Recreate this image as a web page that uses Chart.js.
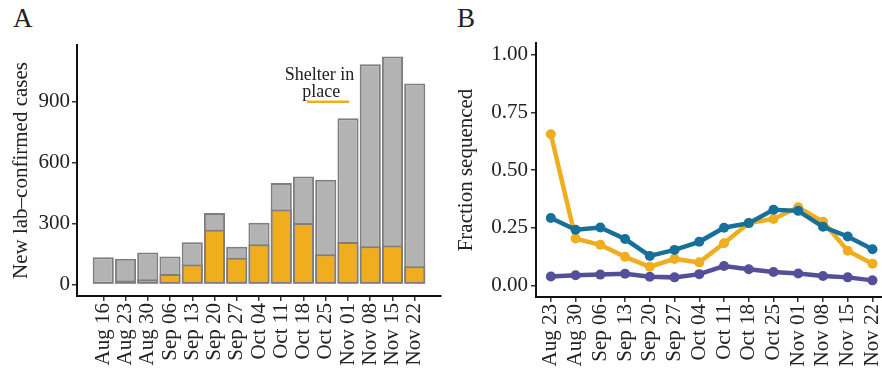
<!DOCTYPE html>
<html lang="en">
<head>
    <meta charset="UTF-8">
    <title>Cases and fraction sequenced</title>
    <script src="https://cdn.jsdelivr.net/npm/chart.js"></script>
    <style>
        html, body {
            margin: 0;
            padding: 0;
            background: #fff;
            overflow: hidden;
            width: 882px;
            height: 368px;
        }
        .panel-letter {
            position: absolute;
            font-family: "Liberation Serif", serif;
            font-size: 27px;
            line-height: 27px;
            color: #222;
        }
        #canvasA {
            position: absolute;
            left: 0;
            top: 0;
        }
        #canvasB {
            position: absolute;
            left: 440px;
            top: 0;
        }
    </style>
</head>
<body>

    <div class="panel-letter" style="left:13px; top:5px;">A</div>
    <div class="panel-letter" style="left:457px; top:5px;">B</div>

    <canvas id="canvasA" width="450" height="368"></canvas>
    <canvas id="canvasB" width="460" height="368"></canvas>

    <script>
        // ---- datos panel A ----
        const weeksA = ['Aug 16', 'Aug 23', 'Aug 30', 'Sep 06', 'Sep 13', 'Sep 20', 'Sep 27',
                        'Oct 04', 'Oct 11', 'Oct 18', 'Oct 25', 'Nov 01', 'Nov 08', 'Nov 15', 'Nov 22'];
        const totalCases = [135, 127, 158, 138, 208, 353, 186, 304, 500, 532, 516, 819, 1084, 1123, 990];
        const sequencedCases = [10, 20, 26, 52, 99, 270, 132, 199, 369, 303, 150, 210, 189, 192, 90];
        const yTicksA = [0, 300, 600, 900];
        const shelterText = ['Shelter in', 'place'];

        // ---- datos panel B ----
        const weeksB = ['Aug 23', 'Aug 30', 'Sep 06', 'Sep 13', 'Sep 20', 'Sep 27', 'Oct 04',
                        'Oct 11', 'Oct 18', 'Oct 25', 'Nov 01', 'Nov 08', 'Nov 15', 'Nov 22'];
        const fracBlue = [0.292, 0.241, 0.251, 0.201, 0.128, 0.154, 0.189, 0.250, 0.270, 0.328, 0.323, 0.254, 0.212, 0.157];
        const fracOrange = [0.655, 0.203, 0.176, 0.124, 0.081, 0.115, 0.100, 0.183, 0.270, 0.288, 0.339, 0.276, 0.150, 0.094];
        const fracPurple = [0.039, 0.044, 0.047, 0.051, 0.038, 0.035, 0.049, 0.084, 0.070, 0.058, 0.052, 0.041, 0.035, 0.022];
        const yTicksB = [0, 0.25, 0.5, 0.75, 1.0];

        const SERIF = '"Liberation Serif", "DejaVu Serif", serif';
        const GREY = '#b3b3b3';
        const GREY_EDGE = '#7e7e7e';
        const ORANGE = '#f0ad1e';
        const BLUE = '#17709a';
        const PURPLE = '#554e98';

        function axisBase(fontSize) {
            return {
                offset: false,
                border: { display: true, color: '#111', width: 2 },
                grid: { display: true, offset: false, drawOnChartArea: false, drawTicks: true, tickLength: 5, color: '#333', lineWidth: 1.5 },
                ticks: { color: '#222', font: { family: SERIF, size: fontSize } }
            };
        }

        // anotacion "Shelter in place" en coordenadas de datos
        const shelterPlugin = {
            id: 'shelter',
            afterDatasetsDraw(chart) {
                const { ctx, scales: { x, y } } = chart;
                ctx.save();
                ctx.fillStyle = '#222';
                ctx.font = '18px ' + SERIF;
                ctx.textAlign = 'center';
                ctx.textBaseline = 'alphabetic';
                ctx.fillText(shelterText[0], x.getPixelForValue(9.72), y.getPixelForValue(1007));
                ctx.fillText(shelterText[1], x.getPixelForValue(9.8), y.getPixelForValue(924));
                ctx.strokeStyle = ORANGE;
                ctx.lineWidth = 2.5;
                ctx.beginPath();
                ctx.moveTo(x.getPixelForValue(9.15), y.getPixelForValue(900));
                ctx.lineTo(x.getPixelForValue(11.05), y.getPixelForValue(900));
                ctx.stroke();
                ctx.restore();
            }
        };

        const xA = axisBase(21);
        Object.assign(xA, {
            type: 'linear',
            min: -1.18,
            max: weeksA.length - 1 + 1.18,
            afterBuildTicks: s => { s.ticks = weeksA.map((_, i) => ({ value: i })); },
            afterFit: s => { s.height = 72; }
        });
        Object.assign(xA.ticks, { autoSkip: false, minRotation: 90, maxRotation: 90, padding: 2,
                                  callback: (v, i) => weeksA[i] });

        const yA = axisBase(21);
        Object.assign(yA, {
            min: -56,
            max: 1179,
            afterBuildTicks: s => { s.ticks = yTicksA.map(v => ({ value: v })); },
            afterFit: s => { s.width = 77; },
            title: { display: true, text: 'New lab\u2013confirmed cases', color: '#222',
                     font: { family: SERIF, size: 21 }, padding: { top: 9, bottom: 0 } }
        });
        yA.ticks.padding = 2;

        new Chart(document.getElementById('canvasA'), {
            type: 'bar',
            data: {
                datasets: [{
                    label: 'Sequenced',
                    data: sequencedCases.map((v, i) => ({ x: i, y: v })),
                    backgroundColor: ORANGE,
                    borderColor: GREY_EDGE,
                    borderWidth: 2,
                    borderSkipped: false,
                    grouped: false,
                    order: 0
                }, {
                    label: 'Total',
                    data: totalCases.map((v, i) => ({ x: i, y: v })),
                    backgroundColor: GREY,
                    borderColor: GREY_EDGE,
                    borderWidth: 2,
                    borderSkipped: false,
                    grouped: false,
                    order: 1
                }]
            },
            options: {
                responsive: false,
                animation: false,
                layout: { padding: { left: 0, top: 45, right: 9, bottom: 0 } },
                datasets: { bar: { barPercentage: 0.95, categoryPercentage: 1 } },
                plugins: { legend: { display: false }, tooltip: { enabled: false } },
                scales: { x: xA, y: yA }
            },
            plugins: [shelterPlugin]
        });

        const xB = axisBase(21);
        Object.assign(xB, {
            type: 'linear',
            min: -0.6,
            max: weeksB.length - 1 + 0.6,
            afterBuildTicks: s => { s.ticks = weeksB.map((_, i) => ({ value: i })); },
            afterFit: s => { s.height = 71; }
        });
        Object.assign(xB.ticks, { autoSkip: false, minRotation: 90, maxRotation: 90, padding: 2,
                                  callback: (v, i) => weeksB[i] });

        const yB = axisBase(21);
        Object.assign(yB, {
            min: -0.05,
            max: 1.05,
            afterBuildTicks: s => { s.ticks = yTicksB.map(v => ({ value: v })); },
            afterFit: s => { s.width = 96; },
            title: { display: true, text: 'Fraction sequenced', color: '#222',
                     font: { family: SERIF, size: 21 }, padding: { top: 14, bottom: 0 } }
        });
        Object.assign(yB.ticks, { padding: 3, callback: v => v.toFixed(2) });

        function lineSet(label, values, color) {
            return {
                label: label,
                data: values.map((v, i) => ({ x: i, y: v })),
                borderColor: color,
                backgroundColor: color,
                borderWidth: 4.5,
                pointRadius: 5,
                pointBorderWidth: 0,
                pointBackgroundColor: color,
                tension: 0,
                clip: false
            };
        }

        new Chart(document.getElementById('canvasB'), {
            type: 'line',
            data: {
                datasets: [
                    lineSet('Blue', fracBlue, BLUE),
                    lineSet('Orange', fracOrange, ORANGE),
                    lineSet('Purple', fracPurple, PURPLE)
                ]
            },
            options: {
                responsive: false,
                animation: false,
                layout: { padding: { left: 0, top: 43, right: 8, bottom: 0 } },
                plugins: { legend: { display: false }, tooltip: { enabled: false } },
                scales: { x: xB, y: yB }
            }
        });
    </script>
</body>
</html>
